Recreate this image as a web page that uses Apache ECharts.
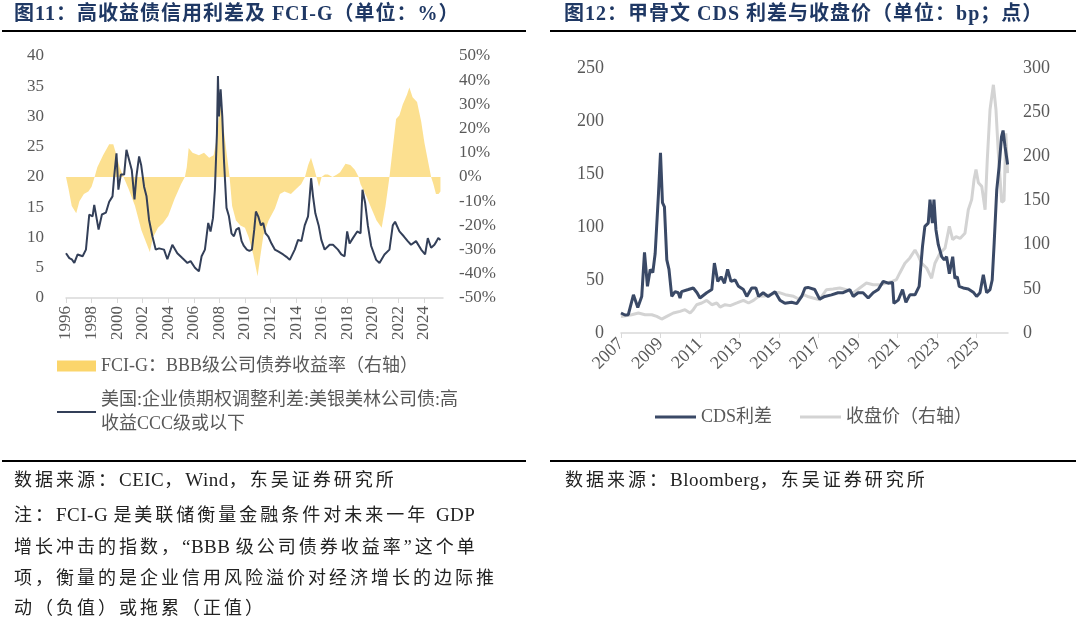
<!DOCTYPE html>
<html>
<head>
<meta charset="utf-8">
<script src="https://cdn.jsdelivr.net/npm/echarts@6/dist/echarts.min.js"></script>
<style>
  body { margin: 0; background: #fff; }
  #page { position: relative; width: 1080px; height: 623px; overflow: hidden; }
  #chart { position: absolute; left: 0; top: 0; width: 1080px; height: 623px; }
  .txt { position: absolute; white-space: nowrap; font-family: "Liberation Serif", "Noto Sans CJK SC", serif; }
  .title { font-size: 20px; font-weight: bold; color: #1f3864; letter-spacing: 1px; line-height: 26px; }
  .note { font-size: 18px; color: #222; letter-spacing: 3px; line-height: 24px; }
  .lat { letter-spacing: 0.5px; font-size: 19px; }
  .rule { position: absolute; height: 2px; background: #000; }
</style>
</head>
<body>
<div id="page">
  <div id="chart"></div>
  <div class="txt title" style="left:14px; top:0px;">图11：高收益债信用利差及 FCI-G（单位：%）</div>
  <div class="txt title" style="left:564px; top:0px;">图12：甲骨文 CDS 利差与收盘价（单位：bp；点）</div>
  <div class="rule" style="left:2px; top:30px; width:524px;"></div>
  <div class="rule" style="left:550px; top:30px; width:526px;"></div>
  <div class="rule" style="left:2px; top:460px; width:524px;"></div>
  <div class="rule" style="left:550px; top:460px; width:526px;"></div>
  <div class="txt note" style="left:14px; top:468px;">数据来源：<span class="lat">CEIC</span>，<span class="lat">Wind</span>，东吴证券研究所</div>
  <div class="txt note" style="left:14px; top:503px;">注：<span class="lat">FCI-G </span>是美联储衡量金融条件对未来一年 <span class="lat">GDP</span></div>
  <div class="txt note" style="left:14px; top:535px;">增长冲击的指数，<span class="lat">“BBB </span>级公司债券收益率”这个单</div>
  <div class="txt note" style="left:14px; top:566px;">项，衡量的是企业信用风险溢价对经济增长的边际推</div>
  <div class="txt note" style="left:14px; top:596px;">动（负值）或拖累（正值）</div>
  <div class="txt note" style="left:565px; top:468px;">数据来源：<span class="lat">Bloomberg</span>，东吴证券研究所</div>
</div>
<script>
// 图11：CCC级利差（左轴）
const spreadDates = [1996.0, 1996.26, 1996.45, 1996.65, 1996.91, 1997.3, 1997.56, 1997.82, 1998.08, 1998.21,
  1998.55, 1998.81, 1999.12, 1999.38, 1999.64, 1999.77, 1999.95, 2000.1, 2000.29, 2000.55,
  2000.73, 2000.94, 2001.15, 2001.36, 2001.51, 2001.72, 2001.88, 2002.11, 2002.3, 2002.5,
  2002.76, 2003.02, 2003.28, 2003.67, 2003.93, 2004.32, 2004.71, 2005.1, 2005.5, 2005.75,
  2006.09, 2006.4, 2006.61, 2006.87, 2007.13, 2007.31, 2007.5, 2007.65, 2007.81, 2007.89,
  2007.97, 2008.1, 2008.23, 2008.36, 2008.56, 2008.75, 2008.95, 2009.14, 2009.32, 2009.53,
  2009.74, 2009.92, 2010.15, 2010.35, 2010.55, 2010.73, 2010.86, 2011.04, 2011.25, 2011.43,
  2011.61, 2011.82, 2012.08, 2012.34, 2012.6, 2012.99, 2013.25, 2013.51, 2013.9, 2014.16,
  2014.42, 2014.68, 2014.94, 2015.07, 2015.18, 2015.33, 2015.51, 2015.77, 2015.98, 2016.24,
  2016.63, 2016.89, 2017.28, 2017.54, 2017.8, 2018.0, 2018.19, 2018.45, 2018.79, 2019.05,
  2019.2, 2019.41, 2019.62, 2019.88, 2020.27, 2020.53, 2020.92, 2021.31, 2021.57, 2021.75,
  2022.09, 2022.43, 2022.74, 2023.0, 2023.39, 2023.79, 2024.1, 2024.31, 2024.57, 2024.83,
  2025.0, 2025.13, 2025.3]
const spreadValues = [7.4, 6.6, 6.4, 5.8, 7.2, 6.9, 8.0, 13.8, 13.5, 15.4,
  11.3, 13.8, 14.1, 15.9, 16.8, 20.1, 23.9, 17.9, 20.4, 20.4,
  24.5, 22.8, 21.1, 16.3, 20.1, 23.4, 22.0, 18.4, 16.8, 12.9,
  10.2, 8.0, 8.2, 8.0, 6.4, 8.8, 7.4, 6.6, 5.8, 6.1,
  5.0, 4.4, 6.9, 8.0, 12.4, 11.0, 13.2, 17.9, 27.2, 36.7,
  30.0, 34.5, 30.0, 22.8, 14.9, 13.5, 10.7, 10.2, 11.3, 11.6,
  9.4, 8.6, 8.0, 7.8, 8.0, 11.3, 14.3, 13.5, 12.0, 12.4,
  10.7, 10.2, 9.0, 8.0, 7.7, 7.2, 6.8, 6.3, 8.0, 9.6,
  9.4, 12.0, 13.5, 16.8, 19.8, 16.8, 14.0, 12.0, 9.6, 8.0,
  8.8, 8.8, 8.0, 7.2, 6.9, 11.0, 9.0, 9.9, 11.0, 10.7,
  17.9, 15.7, 12.0, 8.6, 6.3, 5.8, 7.2, 8.0, 12.0, 12.6,
  11.0, 10.2, 9.4, 8.8, 9.4, 8.0, 7.2, 9.9, 8.3, 8.8,
  9.4, 9.9, 9.6]

// 图11：FCI-G BBB级公司债券收益率（右轴，%）
const fciDates = [1996.0, 1996.2, 1996.45, 1996.8, 1997.05, 1997.4, 1997.75, 1998.0, 1998.24, 1998.45,
  1998.9, 1999.38, 1999.7, 1999.95, 2000.2, 2000.5, 2000.9, 2001.4, 2001.9, 2002.56,
  2002.8, 2003.2, 2003.6, 2004.0, 2004.5, 2005.0, 2005.3, 2005.45, 2005.6, 2005.9,
  2006.4, 2006.8, 2007.2, 2007.55, 2007.8, 2008.05, 2008.2, 2008.45, 2008.8, 2009.0,
  2009.3, 2009.65, 2010.0, 2010.3, 2010.65, 2010.99, 2011.2, 2011.45, 2011.85, 2012.35,
  2012.74, 2013.1, 2013.6, 2014.0, 2014.4, 2014.7, 2014.95, 2015.17, 2015.45, 2015.6,
  2015.8, 2016.0, 2016.26, 2016.5, 2016.85, 2017.2, 2017.45, 2017.87, 2018.25, 2018.6,
  2018.9, 2019.05, 2019.23, 2019.5, 2019.9, 2020.3, 2020.7, 2021.0, 2021.31, 2021.57,
  2021.83, 2022.09, 2022.35, 2022.68, 2022.87, 2023.12, 2023.47, 2023.79, 2024.05, 2024.31,
  2024.57, 2024.75, 2024.95, 2025.15, 2025.3]
const fciValues = [0, -5, -12, -15, -10, -7, -6, -4, 0, 4,
  9, 13.5, 13.5, 9, 4, 0, -5, -12, -22, -31,
  -25, -21, -19, -16, -9, -3, 0, 4, 12, 10,
  9, 10, 8, 9, 16, 30, 26, 15, 0, -12,
  -18, -20, -21, -25, -32, -41, -33, -24, -18, -13,
  -7, -6, -7, -5, -3, 0, 5, 8, 3, 0,
  -4, 0, 1, 1, 0, 1, 2, 5.5, 5, 3,
  0, -3, -5, -8, -13, -18, -21, -12, 0, 12,
  24, 25.5, 30, 34, 37, 33, 31, 23, 14, 7,
  0, -3, -7, -7, -6]

// 图12：甲骨文 CDS 利差（左轴，bp）
const cdsDates = [2007.0, 2007.2, 2007.37, 2007.63, 2007.85, 2008.05, 2008.19, 2008.27, 2008.34, 2008.48,
  2008.61, 2008.73, 2008.9, 2009.0, 2009.1, 2009.2, 2009.32, 2009.43, 2009.57, 2009.74,
  2009.9, 2009.99, 2010.07, 2010.41, 2010.66, 2010.85, 2011.0, 2011.34, 2011.6, 2011.73,
  2011.9, 2012.07, 2012.24, 2012.4, 2012.57, 2012.78, 2012.95, 2013.2, 2013.37, 2013.62,
  2013.83, 2013.97, 2014.2, 2014.45, 2014.8, 2015.05, 2015.3, 2015.64, 2015.9, 2016.15,
  2016.32, 2016.47, 2016.81, 2017.06, 2017.32, 2017.66, 2017.99, 2018.25, 2018.59, 2018.76,
  2019.01, 2019.26, 2019.52, 2019.77, 2020.03, 2020.28, 2020.53, 2020.75, 2020.82, 2021.04,
  2021.26, 2021.43, 2021.63, 2021.89, 2022.1, 2022.27, 2022.39, 2022.56, 2022.65, 2022.77,
  2022.85, 2022.95, 2023.07, 2023.24, 2023.37, 2023.49, 2023.63, 2023.8, 2023.91, 2024.03,
  2024.13, 2024.33, 2024.59, 2024.84, 2025.01, 2025.18, 2025.35, 2025.52, 2025.69, 2025.8,
  2025.9, 2026.03, 2026.15, 2026.27, 2026.35, 2026.45, 2026.58]
const cdsValues = [18.9, 17, 17.3, 36, 24, 34.5, 76, 75, 44, 60,
  57, 75, 132, 170, 123, 119, 69, 60, 34.5, 39,
  38, 33, 39, 41, 42.5, 38, 33, 38, 41, 66,
  48.7, 53, 47, 60, 48.7, 50, 44, 41, 34.5, 42.5,
  42.5, 34.5, 38, 34.5, 39, 31, 28, 29, 27.7, 34.5,
  42.5, 43, 41, 32, 34.5, 36, 38, 38, 41, 34.5,
  38, 38, 33, 38, 41, 48.7, 47, 47.7, 28, 31,
  41, 29, 36, 36, 44, 81.7, 100.6, 103.7, 125.8, 103.7,
  125.8, 97.5, 83.3, 72, 69, 72, 56, 72, 51.6, 53,
  44, 42.5, 41.6, 38.5, 34.5, 38, 55, 38, 41, 50,
  85, 135, 157, 185, 191, 176, 159]

// 图12：收盘价（右轴，点）
const closeDates = [2007.0, 2007.54, 2007.88, 2008.22, 2008.56, 2008.81, 2009.06, 2009.32, 2009.65, 2009.99,
  2010.24, 2010.5, 2010.66, 2010.83, 2011.09, 2011.34, 2011.6, 2011.85, 2012.02, 2012.27,
  2012.53, 2012.87, 2013.2, 2013.46, 2013.71, 2013.97, 2014.3, 2014.64, 2014.98, 2015.32,
  2015.74, 2016.0, 2016.25, 2016.5, 2016.73, 2017.06, 2017.4, 2017.74, 2018.08, 2018.42,
  2018.76, 2019.09, 2019.43, 2019.77, 2020.1, 2020.44, 2020.75, 2020.95, 2021.12, 2021.38,
  2021.63, 2021.89, 2022.06, 2022.22, 2022.48, 2022.73, 2022.9, 2023.16, 2023.41, 2023.63,
  2023.8, 2023.97, 2024.17, 2024.42, 2024.59, 2024.76, 2024.88, 2024.98, 2025.1, 2025.27,
  2025.44, 2025.55, 2025.69, 2025.77, 2025.86, 2025.99, 2026.11, 2026.28, 2026.4, 2026.49,
  2026.58]
const closeValues = [18.8, 20.7, 22.6, 20.7, 20.7, 18.8, 15.8, 18.8, 22.6, 24.5,
  26.4, 22.6, 26.4, 32, 34, 37, 32, 34, 29.4, 32,
  31, 34, 37, 34, 37, 41.5, 42, 44, 46, 43.4,
  41.5, 38.5, 43.4, 41, 39.6, 37.7, 49, 49.8, 51, 49,
  45.3, 51, 56.6, 54.7, 54.7, 56.6, 58.4, 60.4, 68, 79,
  85, 94, 87, 79, 73.6, 62, 79, 90.6, 96, 120.7,
  105.6, 109, 107, 113, 139.6, 151, 173.6, 185, 170, 166,
  139.6, 196, 253, 255, 281, 253, 204, 148, 150, 226,
  181]

const zip = (xs, ys) => xs.map((x, i) => [x, ys[i]])

const serif = '"Liberation Serif", "Noto Sans CJK SC", serif'
const grey = '#595959'
const axisGrey = '#d9d9d9'
const yellow = '#fbd56b'
const navy = '#333f58'
const cdsColor = '#3a4966'
const closeColor = '#d3d3d3'
const spreadName = '美国:企业债期权调整利差:美银美林公司债:高收益CCC级或以下'
const fciName = 'FCI-G：BBB级公司债券收益率（右轴）'

const chart = echarts.init(document.getElementById('chart'))

const yearAxis = (gridIndex, min, max, rotate, fontSize) => ({
  type: 'value',
  gridIndex,
  min,
  max,
  interval: 2,
  splitLine: { show: false },
  axisLine: { onZero: false, lineStyle: { color: axisGrey, width: 1.5 } },
  axisTick: { show: true, length: 5, lineStyle: { color: axisGrey } },
  axisLabel: {
    rotate,
    margin: 8,
    color: grey,
    fontSize,
    fontFamily: serif,
    showMaxLabel: false,
    formatter: v => String(Math.round(v))
  }
})

const plainY = (gridIndex, min, max, interval, margin, fontSize, fmt) => ({
  type: 'value',
  gridIndex,
  min,
  max,
  interval,
  splitLine: { show: false },
  axisLine: { show: false },
  axisTick: { show: false },
  axisLabel: { color: grey, fontSize, fontFamily: serif, margin, formatter: fmt }
})

const option = {
  animation: false,
  textStyle: { fontFamily: serif },
  grid: [
    { left: 66, top: 56, width: 377, height: 242 },
    { left: 621, top: 68, width: 387, height: 265 }
  ],
  xAxis: [
    yearAxis(0, 1996, 2025.5, 90, 17),
    yearAxis(1, 2007, 2026.6, 45, 18)
  ],
  yAxis: [
    plainY(0, 0, 40, 5, 22, 17, '{value}'),
    Object.assign(plainY(0, -50, 50, 10, 16, 17, '{value}%'), { position: 'right' }),
    plainY(1, 0, 250, 50, 17, 18, '{value}'),
    Object.assign(plainY(1, 0, 300, 50, 15, 18, '{value}'), { position: 'right' })
  ],
  legend: [
    {
      orient: 'vertical',
      left: 57,
      top: 354,
      padding: 0,
      itemWidth: 39,
      itemHeight: 11,
      textStyle: { fontSize: 18, color: grey, lineHeight: 24, fontFamily: serif },
      data: [{ name: fciName, icon: 'rect', itemStyle: { color: yellow } }]
    },
    {
      orient: 'vertical',
      left: 57,
      top: 376,
      padding: 0,
      itemWidth: 39,
      itemHeight: 2,
      textStyle: { fontSize: 18, color: grey, lineHeight: 24, fontFamily: serif, padding: [24, 0, 0, 0] },
      formatter: () => '美国:企业债期权调整利差:美银美林公司债:高\n收益CCC级或以下',
      data: [{ name: spreadName, icon: 'rect', itemStyle: { color: navy } }]
    },
    {
      orient: 'horizontal',
      left: 655,
      top: 405,
      padding: 0,
      itemWidth: 41,
      itemHeight: 3,
      itemGap: 28,
      textStyle: { fontSize: 18, color: grey, lineHeight: 24, fontFamily: serif },
      data: [
        { name: 'CDS利差', icon: 'rect', itemStyle: { color: cdsColor } },
        { name: '收盘价（右轴）', icon: 'rect', itemStyle: { color: closeColor } }
      ]
    }
  ],
  series: [
    {
      name: fciName,
      type: 'line',
      xAxisIndex: 0,
      yAxisIndex: 1,
      data: zip(fciDates, fciValues),
      symbol: 'none',
      color: yellow,
      lineStyle: { width: 0 },
      areaStyle: { color: yellow, opacity: 0.75, origin: 'auto' }
    },
    {
      name: spreadName,
      type: 'line',
      xAxisIndex: 0,
      yAxisIndex: 0,
      data: zip(spreadDates, spreadValues),
      symbol: 'none',
      color: navy,
      lineStyle: { color: navy, width: 2 }
    },
    {
      name: 'CDS利差',
      type: 'line',
      xAxisIndex: 1,
      yAxisIndex: 2,
      data: zip(cdsDates, cdsValues),
      symbol: 'none',
      color: cdsColor,
      lineStyle: { color: cdsColor, width: 3 },
      z: 3
    },
    {
      name: '收盘价（右轴）',
      type: 'line',
      xAxisIndex: 1,
      yAxisIndex: 3,
      data: zip(closeDates, closeValues),
      symbol: 'none',
      color: closeColor,
      lineStyle: { color: closeColor, width: 3 },
      z: 2
    }
  ]
}

chart.setOption(option)
</script>
</body>
</html>
